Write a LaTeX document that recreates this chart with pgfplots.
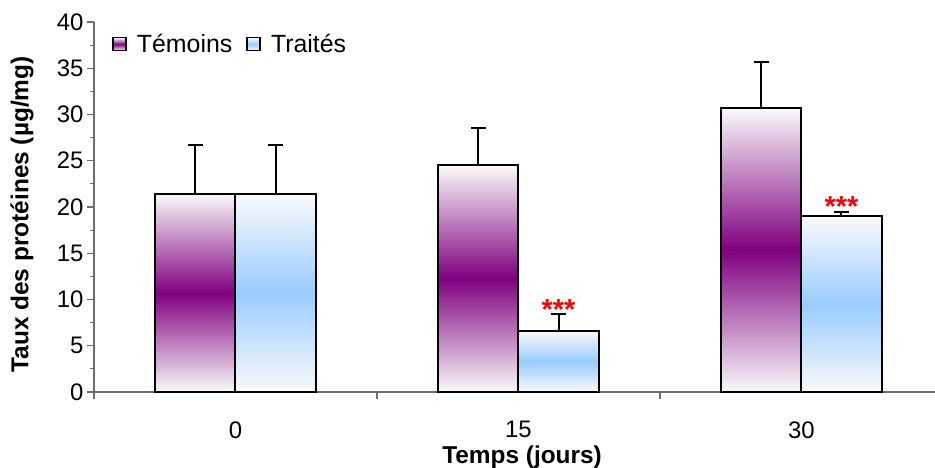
\documentclass[border=0pt]{standalone}
\usepackage{pgfplots}
\pgfplotsset{compat=1.18}
\usepackage{fontspec}
\setmainfont{Liberation Sans}
\definecolor{purp}{RGB}{128,0,128}
\definecolor{lblue}{RGB}{153,204,255}
\definecolor{offwhite}{RGB}{250,250,250}
\definecolor{axgray}{RGB}{110,110,110}
\pgfplotsset{
  errstyle/.style={error bars/y dir=plus, error bars/y explicit,
    error bars/error bar style={line width=2bp, black},
    error bars/error mark options={line width=2bp, mark size=7.5bp, black, rotate=90}},
  tem/.style={bar shift=-0.1415, draw=black, line width=2bp,
    top color=offwhite, bottom color=offwhite, middle color=purp, errstyle,
    legend image code/.code={\draw[draw=black, line width=1.6bp, top color=offwhite, bottom color=offwhite, middle color=purp] (0bp,-6.5bp) rectangle (13bp,6.5bp);}},
  tra/.style={bar shift=0.1415, draw=black, line width=2bp,
    top color=offwhite, bottom color=offwhite, middle color=lblue, errstyle,
    legend image code/.code={\draw[draw=black, line width=1.6bp, top color=offwhite, bottom color=offwhite, middle color=lblue] (0bp,-6.5bp) rectangle (13bp,6.5bp);}},
}
\begin{document}
\begin{tikzpicture}
\useasboundingbox (-94bp,-76bp) rectangle (841bp,392bp);
\begin{axis}[
  at={(0,0)}, anchor=south west,
  scale only axis,
  width=841bp, height=370bp,
  ybar, bar width=0.283,
  xmin=-0.5, xmax=2.472,
  ymin=0, ymax=40,
  enlarge x limits=false, enlarge y limits=false,
  axis x line*=bottom, axis y line*=left,
  axis line style={axgray, line width=1.2bp},
  tick style={axgray, line width=1.2bp},
  tick align=outside,
  major tick length=7bp,
  minor tick length=4bp,
  ytick={0,5,...,40},
  minor y tick num=1,
  xtick={-0.5,0.5,1.5},
  xticklabels={},
  extra x ticks={0,1,2},
  extra x tick labels={0,15,30},
  extra x tick style={major tick length=0pt, xticklabel style={yshift=-26bp}},
  tick label style={font=\fontsize{24}{28}\selectfont},
  /pgf/number format/assume math mode=true,
  ylabel={Taux des protéines (µg/mg)},
  ylabel style={font=\fontsize{24.5}{28}\selectfont\bfseries, at={(axis description cs:-0.0856,0.48)}, anchor=center},
  xlabel={Temps (jours)},
  xlabel style={font=\fontsize{24.5}{28}\selectfont\bfseries, at={(axis description cs:0.509,-0.177)}, anchor=center},
  legend style={draw=none, fill=none, at={(axis description cs:0.018,0.94)}, anchor=west,
    font=\fontsize{25}{28}\selectfont, legend columns=2,
    /tikz/every odd column/.append style={column sep=8bp},
    /tikz/every even column/.append style={column sep=12bp}},
  clip=false,
]
\addplot[tem] coordinates {(0,21.4) +- (0,5.3)};
\addlegendentry{Témoins}
\addplot[tra] coordinates {(0,21.4) +- (0,5.3)};
\addlegendentry{Traités}
\addplot[forget plot, tem] coordinates {(1,24.5) +- (0,4.0)};
\addplot[forget plot, tem] coordinates {(2,30.7) +- (0,5.0)};
\addplot[forget plot, tra] coordinates {(1,6.6) +- (0,1.8)};
\addplot[forget plot, tra] coordinates {(2,19.0) +- (0,0.5)};
\node[red, font=\fontsize{29}{32}\selectfont\bfseries, anchor=base, inner sep=0pt, yshift=-5bp] at (axis cs:1.1415,8.4) {***};
\node[red, font=\fontsize{29}{32}\selectfont\bfseries, anchor=base, inner sep=0pt, yshift=-5bp] at (axis cs:2.1415,19.5) {***};
\end{axis}
\end{tikzpicture}
\end{document}
